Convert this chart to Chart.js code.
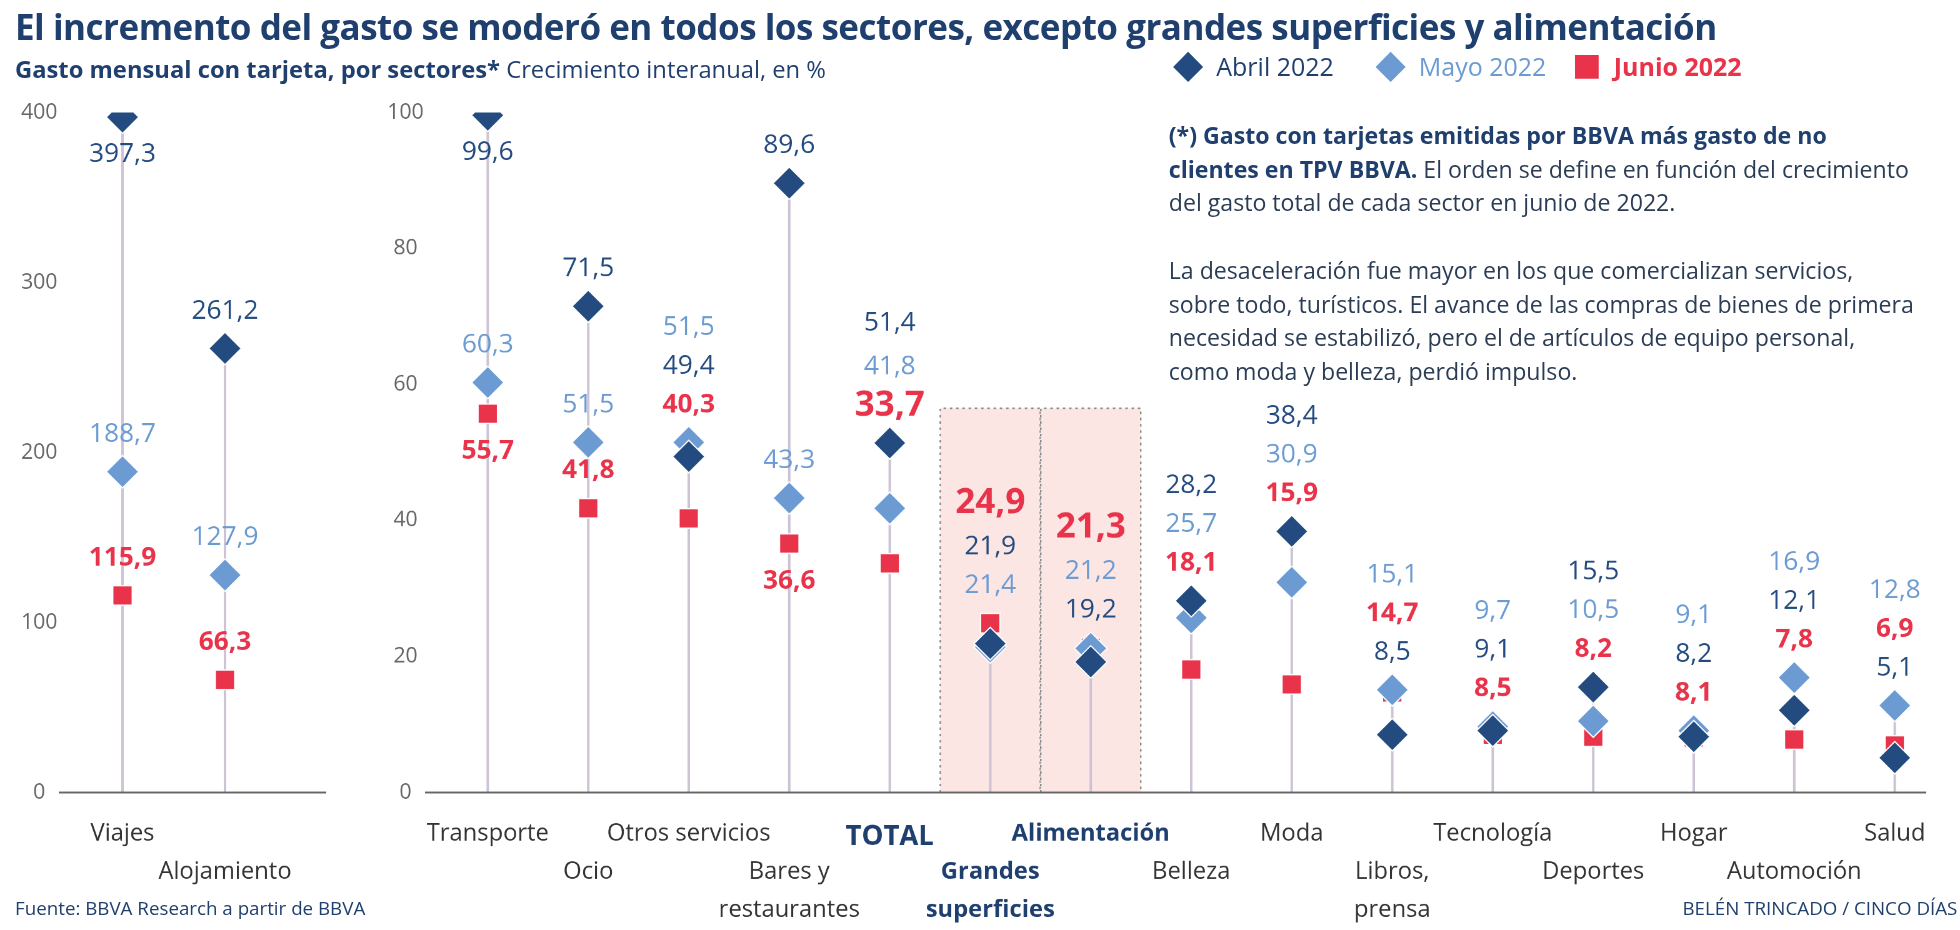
<!DOCTYPE html>
<html><head><meta charset="utf-8">
<script src="https://cdn.jsdelivr.net/npm/chart.js@4"></script>
<style>
body{margin:0;width:1960px;height:930px;background:#fff;font-family:"Open Sans",sans-serif;overflow:hidden}
#wrap{position:relative;width:1568px;height:744px;transform:scale(1.25);transform-origin:0 0}
.abs{position:absolute}
#title{left:12px;top:2px;font-size:28px;font-weight:700;color:#1f3f6e;letter-spacing:-0.4px}
#sub{left:12px;top:42px;font-size:19px;color:#1f3f6e}
#notes{left:935px;top:94px;font-size:18.5px;line-height:27px;color:#2b3c55;width:600px}
.leg{top:40px;font-size:20px}
.dia{display:inline-block;width:17px;height:17px;transform:rotate(45deg);margin-right:14px;vertical-align:-1px}
.sq{display:inline-block;width:19px;height:19px;margin-right:12px;vertical-align:-2px}
#foot1{left:12px;top:716px;font-size:15px;color:#1f3f6e}
#foot2{left:1346px;top:716px;font-size:15px;color:#1f3f6e}
</style></head><body><div id="wrap">
<div id="title" class="abs">El incremento del gasto se moderó en todos los sectores, excepto grandes superficies y alimentación</div>
<div id="sub" class="abs"><b>Gasto mensual con tarjeta, por sectores*</b> Crecimiento interanual, en %</div>
<div class="abs leg" style="left:942px;color:#1f3f6e"><span class="dia" style="background:#234b80"></span>Abril 2022</div>
<div class="abs leg" style="left:1104px;color:#6b9bd2"><span class="dia" style="background:#6b9bd2"></span>Mayo 2022</div>
<div class="abs leg" style="left:1260px;color:#e8334a;font-weight:700"><span class="sq" style="background:#e8334a"></span>Junio 2022</div>
<div id="notes" class="abs"><b style="color:#1f3f6e">(*) Gasto con tarjetas emitidas por BBVA más gasto de no clientes en TPV BBVA.</b> El orden se define en función del crecimiento del gasto total de cada sector en junio de 2022.<br><br>La desaceleración fue mayor en los que comercializan servicios, sobre todo, turísticos. El avance de las compras de bienes de primera necesidad se estabilizó, pero el de artículos de equipo personal, como moda y belleza, perdió impulso.</div>
<div class="abs" style="left:0;top:70px;width:275px;height:680px"><canvas id="c1"></canvas></div>
<div class="abs" style="left:280px;top:70px;width:1290px;height:680px"><canvas id="c2"></canvas></div>
<div id="foot1" class="abs">Fuente: BBVA Research a partir de BBVA</div>
<div id="foot2" class="abs">BELÉN TRINCADO / CINCO DÍAS</div>
</div>
<script>
const leftCategories=[["Viajes"],["","Alojamiento"]];
const leftAbril=[397.3,261.2];
const leftMayo=[188.7,127.9];
const leftJunio=[115.9,66.3];
const leftTicks=[0,100,200,300,400];

const rightCategories=[["Transporte"],["","Ocio"],["Otros servicios"],["","Bares y","restaurantes"],["TOTAL"],["","Grandes","superficies"],["Alimentación"],["","Belleza"],["Moda"],["","Libros,","prensa"],["Tecnología"],["","Deportes"],["Hogar"],["","Automoción"],["Salud"]];
const rightAbril=[99.6,71.5,49.4,89.6,51.4,21.9,19.2,28.2,38.4,8.5,9.1,15.5,8.2,12.1,5.1];
const rightMayo=[60.3,51.5,51.5,43.3,41.8,21.4,21.2,25.7,30.9,15.1,9.7,10.5,9.1,16.9,12.8];
const rightJunio=[55.7,41.8,40.3,36.6,33.7,24.9,21.3,18.1,15.9,14.7,8.5,8.2,8.1,7.8,6.9];
const rightTicks=[0,20,40,60,80,100];
const highlighted=[4,5,6];
const bands=[5,6];

const NAVY='#234b80',LIGHT='#6b9bd2',RED='#e8334a',STEM='#cdc3d4';
const fmt=v=>v.toFixed(1).replace('.',',');

function makeChart(id,cats,A,M,J,ticks,max,yw,opts){
  const stemPlugin={id:'stems',beforeDatasetsDraw(ch){
    const c=ch.ctx,x=ch.scales.x,y=ch.scales.y,a=ch.chartArea;
    c.save();
    (opts.bands||[]).forEach(i=>{
      const x0=x.getPixelForValue(i)-40,x1=x.getPixelForValue(i)+40,yt=y.getPixelForValue(56.5),yb=a.bottom;
      c.fillStyle='#fbe6e4';c.fillRect(x0,yt,x1-x0,yb-yt);
      c.strokeStyle='#8a8a8a';c.setLineDash([2,3]);c.lineWidth=1.2;
      c.beginPath();c.moveTo(x0,yb);c.lineTo(x0,yt);c.lineTo(x1,yt);c.lineTo(x1,yb);c.stroke();c.setLineDash([]);
    });
    c.strokeStyle=STEM;c.lineWidth=2;
    cats.forEach((_,i)=>{const px=x.getPixelForValue(i);const m=Math.max(A[i],M[i],J[i]);
      c.beginPath();c.moveTo(px,a.bottom);c.lineTo(px,y.getPixelForValue(m));c.stroke();});
    c.strokeStyle='#666';c.lineWidth=1.5;c.beginPath();
    c.moveTo(a.left-opts.bl,a.bottom);c.lineTo(a.right+opts.br,a.bottom);c.stroke();
    c.restore();
  },afterDatasetsDraw(ch){
    const c=ch.ctx,x=ch.scales.x,y=ch.scales.y,a=ch.chartArea;
    c.save();c.textAlign='center';c.textBaseline='middle';
    cats.forEach((_,i)=>{
      const px=x.getPixelForValue(i);
      const items=[{v:A[i],col:NAVY,b:false},{v:M[i],col:LIGHT,b:false},{v:J[i],col:RED,b:true}];
      items.forEach(o=>o.my=y.getPixelForValue(o.v));
      const big=(opts.hl||[]).includes(i);
      const mx=Math.max(A[i],M[i],J[i]);
      if(mx<max*0.55){
        const s=items.slice().sort((p,q)=>q.v-p.v);
        const topY=Math.min(...items.map(o=>o.my));
        s.forEach((o,k)=>{o.ly=topY-30-(s.length-1-k)*31;});
        if(big){s[0].ly-=4;}
      }else{
        const s=items.slice().sort((p,q)=>p.my-q.my);
        let last=-1e9;
        s.forEach(o=>{
          let ly=o.my-30;
          const hitsMarker=items.some(q=>q!==o&&Math.abs(q.my-ly)<22);
          if(ly<a.top+5||ly-last<30||hitsMarker)ly=o.my+30;
          o.ly=ly;last=ly;});
      }
      items.forEach(o=>{
        const sz=(big&&o.b)?28:21;
        c.font=(o.b?'700 ':'400 ')+sz+'px "Open Sans"';c.fillStyle=o.col;
        c.fillText(fmt(o.v),px,o.ly);
      });
    });
    c.restore();
  }};
  return new Chart(document.getElementById(id),{type:'line',
    data:{labels:cats,datasets:[
      {data:A,pointStyle:'rectRot',pointRadius:13,pointBackgroundColor:NAVY,pointBorderColor:'#fff',pointBorderWidth:1,showLine:false},
      {data:M,pointStyle:'rectRot',pointRadius:13,pointBackgroundColor:LIGHT,pointBorderColor:'#fff',pointBorderWidth:1,showLine:false},
      {data:J,pointStyle:'rect',pointRadius:11,pointBackgroundColor:RED,pointBorderColor:'#fff',pointBorderWidth:1,showLine:false}]},
    options:{responsive:true,maintainAspectRatio:false,animation:false,events:[],devicePixelRatio:2,
      layout:{padding:{top:20,right:opts.pr,left:0,bottom:0}},
      plugins:{legend:{display:false},tooltip:{enabled:false}},
      scales:{
        x:{offset:true,grid:{display:false},border:{display:false},
          afterFit(s){s.height=116;},
          ticks:{autoSkip:false,maxRotation:0,padding:10,
            color:ctx=>(opts.hl||[]).includes(ctx.index)?'#1f3f6e':'#333',
            font:ctx=>(opts.hl||[]).includes(ctx.index)?{family:'"Open Sans"',size:ctx.index===4?22:19,weight:'700',lineHeight:1.6}:{family:'"Open Sans"',size:19,lineHeight:1.6}}},
        y:{min:0,max:max,grid:{display:false},border:{display:false},
          afterFit(s){s.width=yw;},
          afterBuildTicks(s){s.ticks=ticks.map(v=>({value:v}));},
          ticks:{crossAlign:'center',color:'#666',font:{family:'"Open Sans"',size:17}}}
      }},plugins:[stemPlugin]});
}
makeChart('c1',leftCategories,leftAbril,leftMayo,leftJunio,leftTicks,400,57,{bl:10,br:40,pr:54});
makeChart('c2',rightCategories,rightAbril,rightMayo,rightJunio,rightTicks,100,70,{bl:10,br:-15,pr:0,hl:highlighted,bands:bands});
</script></body></html>
